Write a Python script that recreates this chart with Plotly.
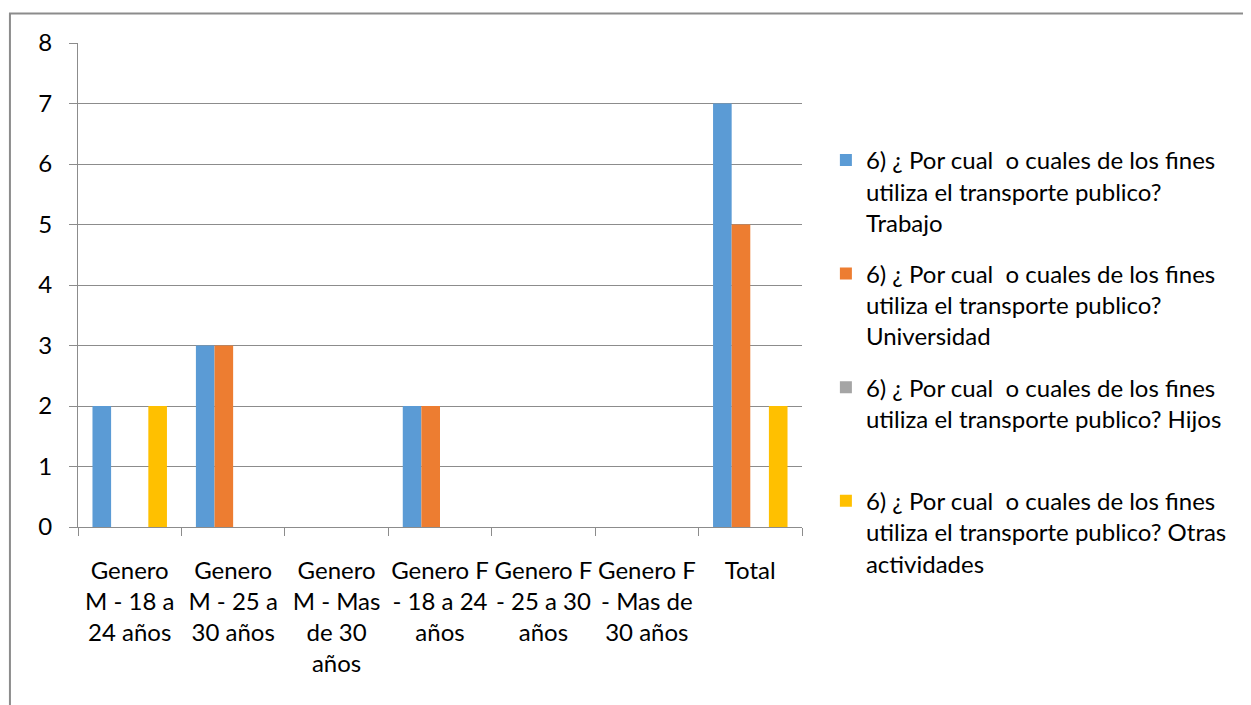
import plotly.graph_objects as go

categories = [
    "Genero<br>M - 18 a<br>24 años",
    "Genero<br>M - 25 a<br>30 años",
    "Genero<br>M - Mas<br>de 30<br>años",
    "Genero F<br>- 18 a 24<br>años",
    "Genero F<br>- 25 a 30<br>años",
    "Genero F<br>- Mas de<br>30 años",
    "Total",
]

prefix = "6) ¿ Por cual\u00a0 o cuales de los fines<br>utiliza el transporte publico?"
series_names = [
    prefix + "<br>Trabajo",
    prefix + "<br>Universidad",
    prefix + " Hijos<br>\u00a0",
    prefix + " Otras<br>actividades",
]

trabajo = [2, 3, 0, 2, 0, 0, 7]
universidad = [0, 3, 0, 2, 0, 0, 5]
hijos = [0, 0, 0, 0, 0, 0, 0]
otras = [2, 0, 0, 0, 0, 0, 2]

colors = ["#5B9BD5", "#ED7D31", "#A5A5A5", "#FFC000"]
font = dict(family="Lato, Open Sans, sans-serif", size=24, color="#000000")

fig = go.Figure()
for i, (name, vals, col) in enumerate(zip(series_names, [trabajo, universidad, hijos, otras], colors)):
    fig.add_trace(go.Bar(x=categories, y=vals, name=name, legendgroup=str(i),
                         marker=dict(color=col, line=dict(width=0))))

# chart border
fig.add_shape(type="rect", xref="paper", yref="paper",
              x0=-0.094, x1=1.7, y0=-0.5, y1=1.061,
              line=dict(color="#8c8c8c", width=2), layer="below")

fig.update_layout(
    width=1251, height=705,
    margin=dict(l=70, r=457, t=35, b=186),
    paper_bgcolor="white", plot_bgcolor="white",
    font=font,
    barmode="group", bargap=0.28, bargroupgap=0,
    showlegend=True,
    legend=dict(x=1.033, y=0.804, xanchor="left", yanchor="top",
                font=font, traceorder="grouped", tracegroupgap=17,
                valign="top", itemwidth=30, bgcolor="rgba(0,0,0,0)"),
)
fig.update_xaxes(
    type="category", tickson="boundaries", ticks="outside", ticklen=8,
    tickcolor="#8c8c8c", showline=True, linecolor="#8c8c8c", linewidth=1,
    showgrid=False, tickangle=0, ticklabelstandoff=22,
)
fig.update_yaxes(
    range=[0, 8], dtick=1, ticks="outside", ticklen=8, tickcolor="#8c8c8c",
    showline=True, linecolor="#8c8c8c", linewidth=1,
    showgrid=True, gridcolor="#8c8c8c", gridwidth=1, zeroline=False,
    ticklabelstandoff=12,
)

fig.write_html("out.html")
